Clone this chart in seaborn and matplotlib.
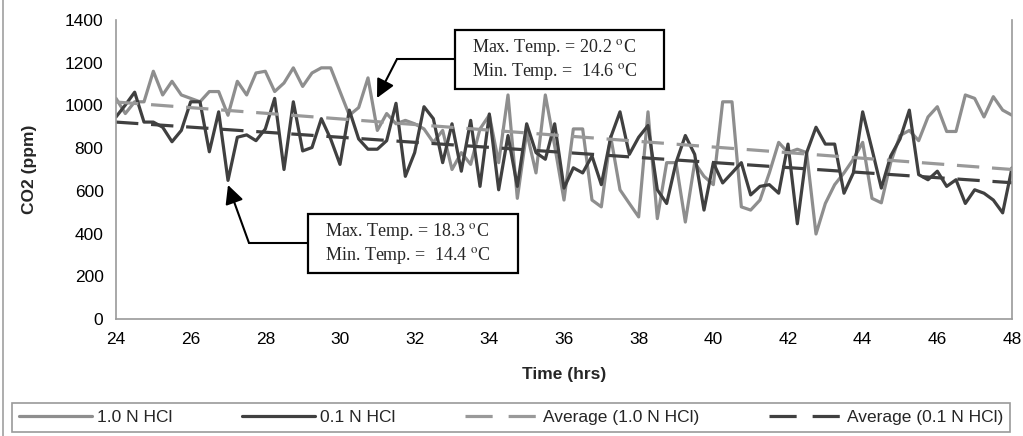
import numpy as np
import pandas as pd
import matplotlib
matplotlib.use("Agg")
import matplotlib.pyplot as plt
import seaborn as sns
from matplotlib.patches import Rectangle, FancyArrowPatch
from matplotlib.lines import Line2D

# ---------------- data ----------------
hours = np.arange(24, 48.001, 0.25)

co2_1N = [1033, 962, 1017, 1017, 1160, 1049, 1113, 1049, 1033, 1017, 1065, 1065,
          954, 1113, 1049, 1152, 1160, 1065, 1105, 1176, 1089, 1152, 1176, 1176,
          1065, 954, 990, 1129, 883, 962, 914, 930, 914, 890, 827, 883,
          700, 779, 724, 890, 955, 732, 1049, 565, 875, 684, 1049, 811,
          557, 890, 890, 557, 525, 855, 605, 541, 478, 970, 470, 732,
          732, 454, 732, 668, 629, 1017, 1017, 525, 510, 557, 684, 827,
          779, 795, 779, 398, 541, 629, 684, 748, 827, 565, 544, 732,
          859, 883, 835, 946, 994, 878, 878, 1049, 1033, 946, 1041, 978,
          954]

co2_01N = [946, 1002, 1062, 922, 922, 898, 830, 883, 1017, 1017, 783, 970,
           649, 851, 862, 835, 890, 1033, 700, 1017, 787, 803, 938, 843,
           724, 978, 843, 795, 795, 835, 1010, 668, 779, 994, 938, 732,
           914, 692, 930, 621, 960, 605, 859, 621, 914, 779, 748, 914,
           613, 708, 684, 763, 629, 850, 970, 771, 851, 906, 605, 541,
           732, 859, 771, 510, 732, 637, 684, 732, 581, 621, 629, 589,
           819, 446, 779, 898, 819, 819, 589, 684, 970, 795, 613, 763,
           843, 978, 676, 652, 692, 621, 652, 541, 605, 589, 557, 497,
           708]

trend_hours = [24, 48]
avg_1N = [1016, 700]
avg_01N = [922, 638]

series_names = ["1.0 N HCl", "0.1 N HCl", "Average (1.0 N HCl)", "Average (0.1 N HCl)"]
x_ticks = list(range(24, 49, 2))
y_ticks = list(range(0, 1401, 200))

note_top = ["Max. Temp. = 20.2 $^{\\rm o}$C", "Min. Temp. =  14.6 $^{\\rm o}$C"]
note_bottom = ["Max. Temp. = 18.3 $^{\\rm o}$C", "Min. Temp. =  14.4 $^{\\rm o}$C"]

# ---------------- style ----------------
sns.set_style("white")
plt.rcParams["font.family"] = ["Liberation Sans", "DejaVu Sans"]
plt.rcParams["mathtext.fontset"] = "stix"

LIGHT = "#8e8e8e"
DARK = "#404040"
AXC = "#9a9a9a"

W, H = 1023, 436
fig = plt.figure(figsize=(W / 100, H / 100), dpi=100)
ax = fig.add_axes([116 / W, 1 - 319 / H, (1012 - 116) / W, (319 - 20) / H])

df = pd.DataFrame({"Time": hours, series_names[0]: co2_1N, series_names[1]: co2_01N})
long = df.melt(id_vars="Time", var_name="Series", value_name="CO2")
sns.lineplot(data=long, x="Time", y="CO2", hue="Series",
             palette={series_names[0]: LIGHT, series_names[1]: DARK},
             linewidth=2.3, legend=False, ax=ax)

sns.lineplot(x=trend_hours, y=avg_1N, color="#999999", linewidth=2.3, ax=ax)
ax.lines[-1].set_linestyle((0, (7, 4)))
sns.lineplot(x=trend_hours, y=avg_01N, color=DARK, linewidth=2.3, ax=ax)
ax.lines[-1].set_linestyle((0, (7, 4)))

ax.set_xlim(24, 48)
ax.set_ylim(0, 1400)
ax.set_xticks(x_ticks)
ax.set_yticks(y_ticks)
ax.tick_params(axis="both", direction="out", length=5, width=1, color=AXC,
               labelsize=12.5, labelcolor="black", pad=4)
for s in ["left", "bottom", "right"]:
    ax.spines[s].set_color(AXC)
    ax.spines[s].set_linewidth(1.2)
ax.spines["top"].set_visible(False)
ax.set_xlabel("Time (hrs)", fontsize=12.5, fontweight="bold")
ax.set_ylabel("CO2 (ppm)", fontsize=12.5, fontweight="bold")
ax.xaxis.set_label_coords(0.5, (319 - 367) / 299)
ax.yaxis.set_label_coords((37 - 116) / 896, 0.5)


def fx(px):
    return px / W


def fy(py):
    return 1 - py / H


# outer chart border (left side visible in the reference)
fig.lines.append(Line2D([fx(2.5), fx(2.5)], [0, 1], transform=fig.transFigure,
                        color="#a0a0a0", linewidth=1.2))

# annotation boxes
for (x0, y0, x1, y1), lines in [((455, 30, 664, 89), note_top), ((308, 214, 518, 273), note_bottom)]:
    fig.patches.append(Rectangle((fx(x0), fy(y1)), fx(x1) - fx(x0), fy(y0) - fy(y1),
                                 transform=fig.transFigure, facecolor="white",
                                 edgecolor="black", linewidth=1.6, zorder=5))
    fig.text(fx(x0 + 17), fy((y0 + y1) / 2), "\n".join(lines), ha="left", va="center",
             family=["Liberation Serif", "DejaVu Serif"], fontsize=13, linespacing=1.15,
             zorder=6)

# arrows
for (bx, by), (cx, cy), (tx, ty) in [((455, 59), (397, 59), (377, 98)),
                                     ((308, 243), (249, 243), (228, 185))]:
    fig.lines.append(Line2D([fx(bx), fx(cx)], [fy(by), fy(cy)], transform=fig.transFigure,
                            color="black", linewidth=1.5))
    fig.add_artist(FancyArrowPatch(
        (fx(cx), fy(cy)), (fx(tx), fy(ty)), transform=fig.transFigure,
        arrowstyle="-|>", mutation_scale=28, color="black", linewidth=1.5,
        shrinkA=0, shrinkB=0))

# legend
handles = [Line2D([], [], color=LIGHT, lw=2.3),
           Line2D([], [], color=DARK, lw=2.3),
           Line2D([], [], color="#999999", lw=2.3, ls=(0, (8.5, 5))),
           Line2D([], [], color=DARK, lw=2.3, ls=(0, (8.5, 5)))]
leg = fig.legend(handles, series_names, ncol=4, loc="lower left",
                 bbox_to_anchor=(fx(12), fy(432), fx(1010) - fx(12), fy(408) - fy(432)),
                 mode="expand", frameon=True, fancybox=False, edgecolor="#808080",
                 handlelength=4.2, handletextpad=0.3, borderaxespad=0,
                 borderpad=0.4,
                 prop={"family": ["Liberation Sans Narrow", "Liberation Sans"], "size": 12.5})
leg.get_frame().set_linewidth(1.2)

fig.savefig("out.png", dpi=100)
